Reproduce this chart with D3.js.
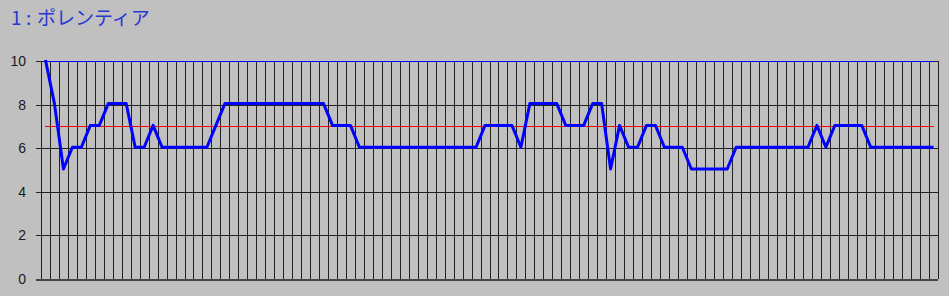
<!DOCTYPE html>
<html>
<head>
<meta charset="utf-8">
<script src="https://cdn.jsdelivr.net/npm/d3@7"></script>
<style>
  html, body { margin: 0; padding: 0; background: #c0c0c0; }
  svg { display: block; }
</style>
</head>
<body>
<svg id="chart" width="949" height="296"></svg>
<script>
// データ
const titleParts = ["1", ":", "ポレンティア"];
const values = [
  10, 8, 5, 6, 6, 7, 7, 8, 8, 8,
  6, 6, 7, 6, 6, 6, 6, 6, 6, 7,
  8, 8, 8, 8, 8, 8, 8, 8, 8, 8,
  8, 8, 7, 7, 7, 6, 6, 6, 6, 6,
  6, 6, 6, 6, 6, 6, 6, 6, 6, 7,
  7, 7, 7, 6, 8, 8, 8, 8, 7, 7,
  7, 8, 8, 5, 7, 6, 6, 7, 7, 6,
  6, 6, 5, 5, 5, 5, 5, 6, 6, 6,
  6, 6, 6, 6, 6, 6, 7, 6, 7, 7,
  7, 7, 6, 6, 6, 6, 6, 6, 6, 6
];
const yTicks = [0, 2, 4, 6, 8, 10];
const targetValue = 7;   // 赤い基準線
const upperValue = 10;   // 上限の青い線

const W = 949, H = 296;
const margin = { top: 61, right: 11, bottom: 17, left: 41 };

const svg = d3.select("#chart");
svg.append("rect").attr("width", W).attr("height", H).attr("fill", "#c0c0c0");

// x は区間の境界、点は区間の真ん中
const x = d3.scaleLinear()
  .domain([0, values.length])
  .range([margin.left, W - margin.right]);
const y = d3.scaleLinear()
  .domain([0, 10])
  .range([H - margin.bottom, margin.top]);

// 縦のグリッド
svg.append("g")
  .attr("transform", `translate(0,${H - margin.bottom})`)
  .call(d3.axisBottom(x)
    .tickValues(d3.range(values.length + 1))
    .tickSize(-(H - margin.top - margin.bottom))
    .tickFormat(""))
  .call(g => g.select(".domain").remove())
  .call(g => g.selectAll(".tick line")
    .attr("stroke", "#222")
    .attr("stroke-width", 1)
    .attr("shape-rendering", "crispEdges"));

// 横のグリッドとラベル
svg.append("g")
  .attr("transform", `translate(${margin.left - 5},0)`)
  .call(d3.axisLeft(y)
    .tickValues(yTicks)
    .tickSize(-(W - margin.right - margin.left + 5))
    .tickPadding(10)
    .tickFormat(d3.format("d")))
  .call(g => g.select(".domain").remove())
  .call(g => g.selectAll(".tick line")
    .attr("stroke", d => d === 0 ? "#444" : "#222")
    .attr("stroke-width", d => d === 0 ? 2 : 1)
    .attr("shape-rendering", "crispEdges"))
  .call(g => g.selectAll(".tick text")
    .attr("fill", "#1a1a1a")
    .style("font", "14px 'Liberation Sans', Arial, sans-serif"));

const px = (d, i) => x(i + 0.5);

// 上限 (10) の細い青線
svg.append("path")
  .datum(values.map(() => upperValue))
  .attr("fill", "none")
  .attr("stroke", "#0000ff")
  .attr("stroke-width", 1)
  .attr("shape-rendering", "crispEdges")
  .attr("d", d3.line().x(px).y(d => y(d)));

// 基準線 (7)
svg.append("path")
  .datum(values.map(() => targetValue))
  .attr("fill", "none")
  .attr("stroke", "#ff0000")
  .attr("stroke-width", 1)
  .attr("shape-rendering", "crispEdges")
  .attr("d", d3.line().x(px).y(d => y(d)));

// メインの線
svg.append("path")
  .datum(values)
  .attr("fill", "none")
  .attr("stroke", "#0000ff")
  .attr("stroke-width", 3)
  .attr("stroke-linejoin", "round")
  .attr("d", d3.line().x(px).y(d => y(d) - 1));

// タイトル (番号・区切り・名前を少し離して置く)
const titleX = [11, 26, 37];
const t = svg.append("text")
  .attr("y", 25)
  .attr("fill", "#2838d0")
  .style("font", "19px 'Noto Sans CJK JP', sans-serif");
titleParts.forEach((s, i) => t.append("tspan").attr("x", titleX[i]).text(s));
</script>
</body>
</html>
